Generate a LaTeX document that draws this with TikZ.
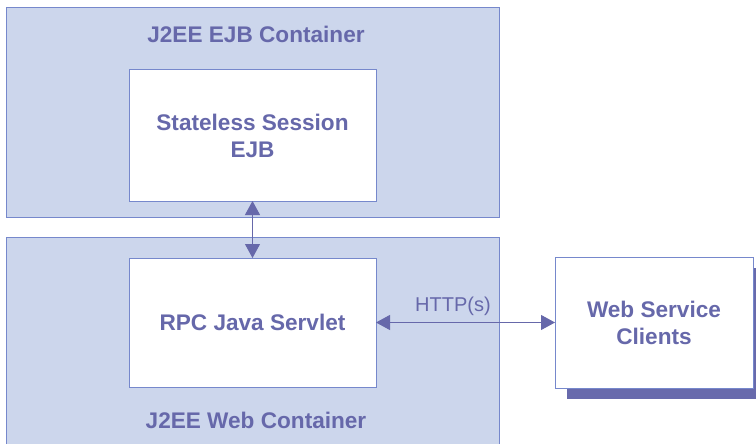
\documentclass[tikz,border=0pt]{standalone}
\usepackage{fontspec}
\setmainfont{Liberation Sans}
\usetikzlibrary{arrows.meta, shadows}
\definecolor{boxfill}{RGB}{204, 214, 236}
\definecolor{boxline}{RGB}{118, 136, 204}
\definecolor{labelblue}{RGB}{102, 104, 170}
\definecolor{shadowblue}{RGB}{104, 106, 172}
\begin{document}
\begin{tikzpicture}[x=1pt, y=-1pt, line width=1pt,
      >={Triangle[length=14pt, width=15pt]},
      cont/.style={draw=boxline, fill=boxfill, inner sep=0pt, outer sep=0pt, minimum width=493pt},
      b/.style={draw=boxline, fill=white, inner sep=0pt, outer sep=0pt, align=center,
        text=labelblue, font=\fontsize{22.6}{27}\selectfont\bfseries},
      lbl/.style={text=labelblue, font=\fontsize{22.6}{27}\selectfont\bfseries}]
    \clip (0, 0) rectangle (756, 444);
    \node[cont, minimum height=209pt] (ejbc) at (252.5, 112.5) {};
    \node[cont, minimum height=213pt] (webc) at (252.5, 343.5) {};
    \node[lbl] (ejbl) at (256, 34) {J2EE EJB Container};
    \node[lbl] (webl) at (256, 420) {J2EE Web Container};
    \node[b, minimum width=247pt, minimum height=131pt] (ejb) at (252.5, 135.5) {Stateless Session\\EJB};
    \node[b, minimum width=247pt, minimum height=129pt] (rpc) at (252.5, 322.5) {RPC Java Servlet};
    \node[b, minimum width=198pt, minimum height=131pt,
      drop shadow={shadow xshift=12pt, shadow yshift=-11pt, fill=shadowblue, opacity=1}]
      (cli) at (654, 322.5) {Web Service\\Clients};
    \draw[<->, draw=labelblue, fill=labelblue] (ejb.south) -- (rpc.north);
    \draw[<->, draw=labelblue, fill=labelblue] (rpc.east) -- node[above=3pt, pos=0.43, text=labelblue,
      font=\fontsize{20}{24}\selectfont] {HTTP(s)} (cli.west);
  \end{tikzpicture}
\end{document}
